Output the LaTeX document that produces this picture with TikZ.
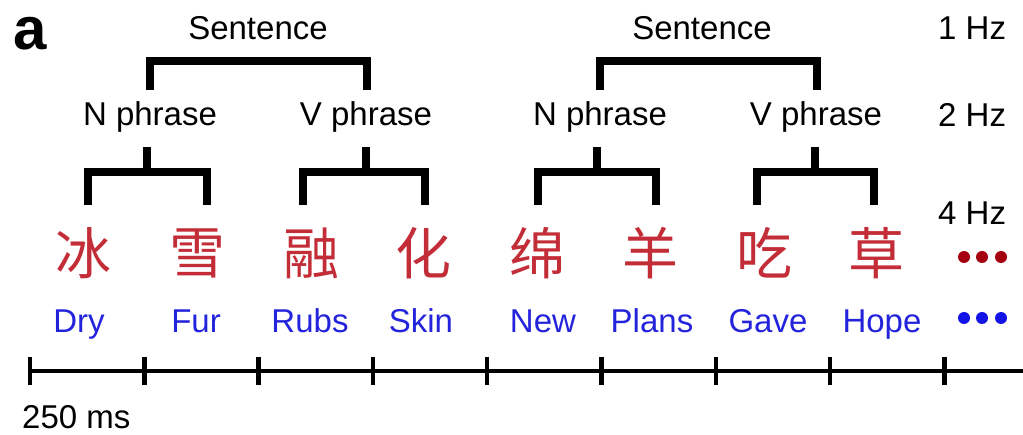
\documentclass[tikz,border=0pt]{standalone}
\usepackage{fontspec}
\setmainfont{Liberation Sans}
\newfontfamily\cjk{Noto Sans CJK SC}
\definecolor{hanred}{RGB}{195,45,55}
\definecolor{wordblue}{RGB}{35,35,220}
\definecolor{dotred}{RGB}{165,0,15}
\definecolor{dotblue}{RGB}{20,20,230}
\begin{document}
\begin{tikzpicture}[x=1pt,y=-1pt,
  lbl/.style={inner sep=0,anchor=base,font=\fontsize{33}{40}\selectfont},
  hz/.style={inner sep=0,anchor=base west,font=\fontsize{33}{40}\selectfont},
  han/.style={inner sep=0,anchor=center,text=hanred,font=\cjk\fontsize{56}{60}\selectfont},
  word/.style={lbl,text=wordblue},
  brk/.style={line width=7.5pt,line join=miter},
  axis/.style={line width=4.5pt},
  tickmark/.style={line width=4.5pt},
  dotmark/.style={circle,inner sep=0,minimum size=12pt}]
\useasboundingbox (0,0) rectangle (1023,435);

% panel letter
\node[inner sep=0,anchor=base west,font=\bfseries\fontsize{60}{60}\selectfont] (panel) at (13,50) {a};

% sentence level
\node[lbl] (S1) at (258,40) {Sentence};
\node[lbl] (S2) at (702,40) {Sentence};

% frequency labels
\node[hz] (h1) at (938,40) {1 Hz};
\node[hz] (h2) at (938,127) {2 Hz};
\node[hz] (h4) at (938,225) {4 Hz};

% phrase level
\node[lbl] (N1) at (150,126) {N phrase};
\node[lbl] (V1) at (366,126) {V phrase};
\node[lbl] (N2) at (600,126) {N phrase};
\node[lbl] (V2) at (816,126) {V phrase};

% characters
\node[han] (c1) at (83,253) {冰};
\node[han] (c2) at (197,253) {雪};
\node[han] (c3) at (311,253) {融};
\node[han] (c4) at (423,253) {化};
\node[han] (c5) at (537,253) {绵};
\node[han] (c6) at (650,253) {羊};
\node[han] (c7) at (764,253) {吃};
\node[han] (c8) at (876,253) {草};

% english words
\node[word] (w1) at (79,333) {Dry};
\node[word] (w2) at (196,333) {Fur};
\node[word] (w3) at (310,333) {Rubs};
\node[word] (w4) at (421,333) {Skin};
\node[word] (w5) at (543,333) {New};
\node[word] (w6) at (652,333) {Plans};
\node[word] (w7) at (768,333) {Gave};
\node[word] (w8) at (882,333) {Hope};

% ellipsis dots
\node[dotmark,fill=dotred] (r1) at (964,257) {};
\node[dotmark,fill=dotred] (r2) at (982,257) {};
\node[dotmark,fill=dotred] (r3) at (1001,257) {};
\node[dotmark,fill=dotblue] (b1) at (964,318) {};
\node[dotmark,fill=dotblue] (b2) at (982,318) {};
\node[dotmark,fill=dotblue] (b3) at (1001,318) {};

% sentence brackets
\coordinate (s1L) at (150,90);
\coordinate (s1R) at (367,90);
\coordinate (s2L) at (600,90);
\coordinate (s2R) at (817,90);
\draw[brk] (s1L) -- ++(0,-29) -| (s1R);
\draw[brk] (s2L) -- ++(0,-29) -| (s2R);

% phrase brackets
\foreach \nm/\l/\r/\s in {n1/88/207/147, v1/303/425/366, n2/538/656/597, v2/757/874/815}{
  \coordinate (\nm L) at (\l,205);
  \coordinate (\nm R) at (\r,205);
  \coordinate (\nm T) at (\s,147);
  \coordinate (\nm M) at (\s,172);
  \draw[brk] (\nm L) -- ++(0,-33) -| (\nm R);
  \draw[brk] (\nm T) -- (\nm M);
}

% time axis
\foreach \i in {0,...,8}{
  \coordinate (t\i) at ({30+114.3*\i},371);
}
\coordinate (tend) at (1023,371);
\draw[axis] (t0) -- (tend);
\foreach \i in {0,...,8}{
  \draw[tickmark] ([yshift=14pt]t\i) -- ([yshift=-14pt]t\i);
}
\node[inner sep=0,anchor=base west,font=\fontsize{33}{40}\selectfont] (ms) at (22,429) {250 ms};
\end{tikzpicture}
\end{document}
